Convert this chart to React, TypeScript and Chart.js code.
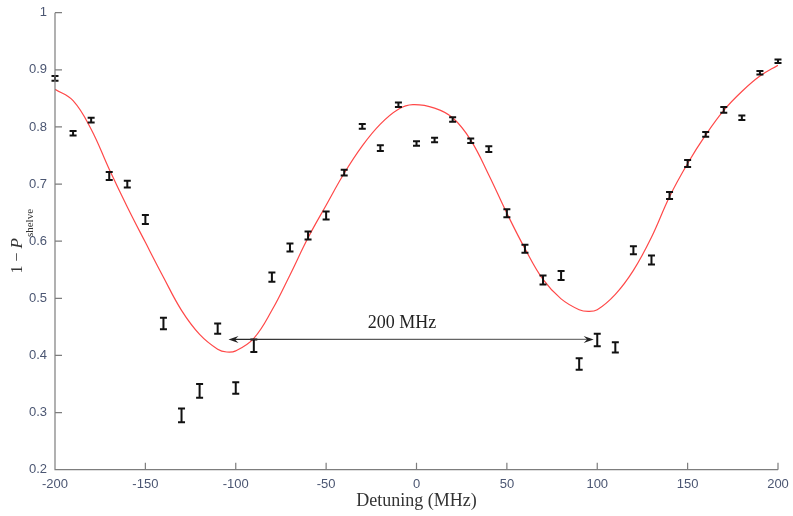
import React, { useEffect, useRef } from "react";
import { Chart, registerables } from "chart.js";

Chart.register(...registerables);

// ---- data ----
const detuning = [
  -200, -190, -180, -170, -160, -150, -140, -130, -120, -110, -100, -90, -80, -70, -60, -50, -40, -30, -20, -10,
  0, 10, 20, 30, 40, 50, 60, 70, 80, 90, 100, 110, 120, 130, 140, 150, 160, 170, 180, 190, 200,
];
const shelveValues = [
  0.885, 0.789, 0.812, 0.714, 0.7, 0.638, 0.456, 0.295, 0.338, 0.447, 0.343, 0.417, 0.537, 0.589, 0.61, 0.645,
  0.72, 0.801, 0.763, 0.839, 0.771, 0.777, 0.813, 0.776, 0.761, 0.649, 0.587, 0.532, 0.54, 0.385, 0.427, 0.414,
  0.584, 0.567, 0.68, 0.736, 0.787, 0.83, 0.816, 0.895, 0.915,
];
const shelveErrors = [
  0.004, 0.004, 0.004, 0.007, 0.006, 0.008, 0.01, 0.012, 0.012, 0.009, 0.01, 0.011, 0.008, 0.007, 0.007, 0.007,
  0.005, 0.004, 0.005, 0.004, 0.004, 0.004, 0.004, 0.004, 0.005, 0.007, 0.007, 0.008, 0.008, 0.01, 0.011, 0.009,
  0.007, 0.008, 0.006, 0.006, 0.004, 0.005, 0.004, 0.003, 0.003,
];
const fitDetuning = [
  -200, -190, -180, -170, -160, -150, -140, -130, -120, -110, -105, -100, -90, -80, -70, -60, -50, -40, -30, -20,
  -10, -2, 10, 20, 30, 40, 50, 60, 70, 80, 90, 95, 100, 110, 120, 130, 140, 150, 160, 170, 180, 190, 200,
];
const fitValues = [
  0.866, 0.846, 0.796, 0.726, 0.66, 0.598, 0.537, 0.479, 0.437, 0.411, 0.406, 0.408, 0.43, 0.479, 0.541, 0.606,
  0.663, 0.719, 0.767, 0.805, 0.831, 0.839, 0.833, 0.816, 0.777, 0.716, 0.649, 0.587, 0.533, 0.499, 0.48, 0.477,
  0.48, 0.507, 0.549, 0.607, 0.678, 0.736, 0.786, 0.829, 0.862, 0.889, 0.908,
];
const xRange = [-200, 200];
const yRange = [0.2, 1];
const xStep = 50;
const yStep = 0.1;
const arrowFrom = -104;
const arrowTo = 98;
const arrowLevel = 0.428;
const arrowLabel = "200 MHz";
const arrowLabelX = -8;
const arrowLabelY = 0.457;
const xTitle = "Detuning (MHz)";
const yTitleMain = "1 \u2212 ";
const yTitleVar = "P";
const yTitleSub = "shelve";

const TICK_COLOR = "#4b5672";
const AXIS_COLOR = "#7d7d7d";
const SERIF = "'Liberation Serif', 'DejaVu Serif', serif";
const SANS = "'Liberation Sans', Arial, sans-serif";

const decorPlugin = {
  id: "decor",
  afterDatasetsDraw(chart: any) {
    const ctx = chart.ctx as CanvasRenderingContext2D;
    const xs = chart.scales.x;
    const ys = chart.scales.y;
    const area = chart.chartArea;

    // error bars
    const meta = chart.getDatasetMeta(1);
    ctx.save();
    ctx.strokeStyle = "#111";
    ctx.lineWidth = 2;
    meta.data.forEach((pt: any, i: number) => {
      const x = pt.x;
      const yTop = ys.getPixelForValue(shelveValues[i] + shelveErrors[i]);
      const yBot = ys.getPixelForValue(shelveValues[i] - shelveErrors[i]);
      ctx.beginPath();
      ctx.moveTo(x, yTop);
      ctx.lineTo(x, yBot);
      ctx.moveTo(x - 3.5, yTop);
      ctx.lineTo(x + 3.5, yTop);
      ctx.moveTo(x - 3.5, yBot);
      ctx.lineTo(x + 3.5, yBot);
      ctx.stroke();
    });
    ctx.restore();

    // arrow
    const ax1 = xs.getPixelForValue(arrowFrom);
    const ax2 = xs.getPixelForValue(arrowTo);
    const ay = ys.getPixelForValue(arrowLevel);
    ctx.save();
    const grad = ctx.createLinearGradient(ax1, 0, ax2, 0);
    grad.addColorStop(0, "#222");
    grad.addColorStop(0.3, "#555");
    grad.addColorStop(1, "#777");
    ctx.strokeStyle = grad;
    ctx.lineWidth = 1.2;
    ctx.beginPath();
    ctx.moveTo(ax1 + 4, ay);
    ctx.lineTo(ax2 - 4, ay);
    ctx.stroke();
    const head = (tip: number, dir: number) => {
      ctx.beginPath();
      ctx.moveTo(tip, ay);
      ctx.lineTo(tip - dir * 10, ay - 3.5);
      ctx.lineTo(tip - dir * 6.5, ay);
      ctx.lineTo(tip - dir * 10, ay + 3.5);
      ctx.closePath();
      ctx.fill();
    };
    ctx.fillStyle = "#222";
    head(ax1, -1);
    head(ax2, 1);
    ctx.font = `18px ${SERIF}`;
    ctx.fillStyle = "#222";
    ctx.textAlign = "center";
    ctx.textBaseline = "middle";
    ctx.fillText(arrowLabel, xs.getPixelForValue(arrowLabelX), ys.getPixelForValue(arrowLabelY));
    ctx.restore();

    // axes lines and inward ticks
    ctx.save();
    ctx.strokeStyle = AXIS_COLOR;
    ctx.lineWidth = 1.2;
    ctx.beginPath();
    ctx.moveTo(area.left, area.top);
    ctx.lineTo(area.left, area.bottom);
    ctx.lineTo(area.right, area.bottom);
    xs.ticks.forEach((t: any) => {
      const px = xs.getPixelForValue(t.value);
      ctx.moveTo(px, area.bottom);
      ctx.lineTo(px, area.bottom - 7);
    });
    ys.ticks.forEach((t: any) => {
      const py = ys.getPixelForValue(t.value);
      ctx.moveTo(area.left, py);
      ctx.lineTo(area.left + 7, py);
    });
    ctx.stroke();
    ctx.restore();

    // axis titles
    ctx.save();
    ctx.fillStyle = "#333";
    ctx.font = `18px ${SERIF}`;
    ctx.textAlign = "center";
    ctx.textBaseline = "middle";
    ctx.fillText(xTitle, (area.left + area.right) / 2, area.bottom + 32);

    const mainFont = `16px ${SERIF}`;
    const varFont = `italic 17px ${SERIF}`;
    const subFont = `11px ${SERIF}`;
    ctx.font = mainFont;
    const w1 = ctx.measureText(yTitleMain).width;
    ctx.font = varFont;
    const w2 = ctx.measureText(yTitleVar).width + 1;
    ctx.font = subFont;
    const w3 = ctx.measureText(yTitleSub).width;
    const total = w1 + w2 + w3;
    const cy = (area.top + area.bottom) / 2;
    ctx.translate(22, cy);
    ctx.rotate(-Math.PI / 2);
    ctx.textAlign = "left";
    ctx.textBaseline = "alphabetic";
    let x0 = -total / 2;
    ctx.font = mainFont;
    ctx.fillText(yTitleMain, x0, 0);
    x0 += w1;
    ctx.font = varFont;
    ctx.fillText(yTitleVar, x0, 0);
    x0 += w2;
    ctx.font = subFont;
    ctx.fillText(yTitleSub, x0, 11);
    ctx.restore();
  },
};

export default function App() {
  const ref = useRef<HTMLCanvasElement | null>(null);

  useEffect(() => {
    document.body.style.margin = "0";
    const canvas = ref.current;
    if (!canvas) return;
    const fitPoints = fitDetuning.map((x, i) => ({ x, y: fitValues[i] }));
    const dataPoints = detuning.map((x, i) => ({ x, y: shelveValues[i] }));
    const chart = new Chart(canvas, {
      type: "scatter",
      data: {
        datasets: [
          {
            type: "line",
            label: "fit",
            data: fitPoints,
            borderColor: "rgba(255,40,40,0.85)",
            borderWidth: 1.2,
            pointRadius: 0,
            tension: 0.4,
            fill: false,
          } as any,
          {
            type: "scatter",
            label: "data",
            data: dataPoints,
            pointRadius: 0,
            pointHoverRadius: 0,
          },
        ],
      },
      options: {
        responsive: false,
        animation: false,
        events: [],
        layout: { padding: { left: 0, top: 12.7, right: 15, bottom: 0 } },
        plugins: {
          legend: { display: false },
          tooltip: { enabled: false },
          title: { display: false },
        },
        scales: {
          x: {
            type: "linear",
            min: xRange[0],
            max: xRange[1],
            grid: { display: false, drawTicks: false },
            border: { display: false },
            ticks: {
              stepSize: xStep,
              color: TICK_COLOR,
              padding: 7,
              font: { family: SANS, size: 13 },
              maxRotation: 0,
            },
            afterFit: (scale: any) => {
              scale.height = 46.3;
              scale.paddingLeft = 0;
              scale.paddingRight = 0;
            },
          },
          y: {
            type: "linear",
            min: yRange[0],
            max: yRange[1],
            grid: { display: false, drawTicks: false },
            border: { display: false },
            ticks: {
              stepSize: yStep,
              color: TICK_COLOR,
              padding: 8,
              font: { family: SANS, size: 13 },
              callback: (v: any) => String(Number(Number(v).toFixed(1))),
            },
            afterFit: (scale: any) => {
              scale.width = 55;
              scale.paddingTop = 0;
              scale.paddingBottom = 0;
            },
          },
        },
      },
      plugins: [decorPlugin],
    });
    return () => chart.destroy();
  }, []);

  return (
    <div style={{ width: 793, height: 516, background: "#fff" }}>
      <canvas ref={ref} width={793} height={516} style={{ display: "block" }} />
    </div>
  );
}
